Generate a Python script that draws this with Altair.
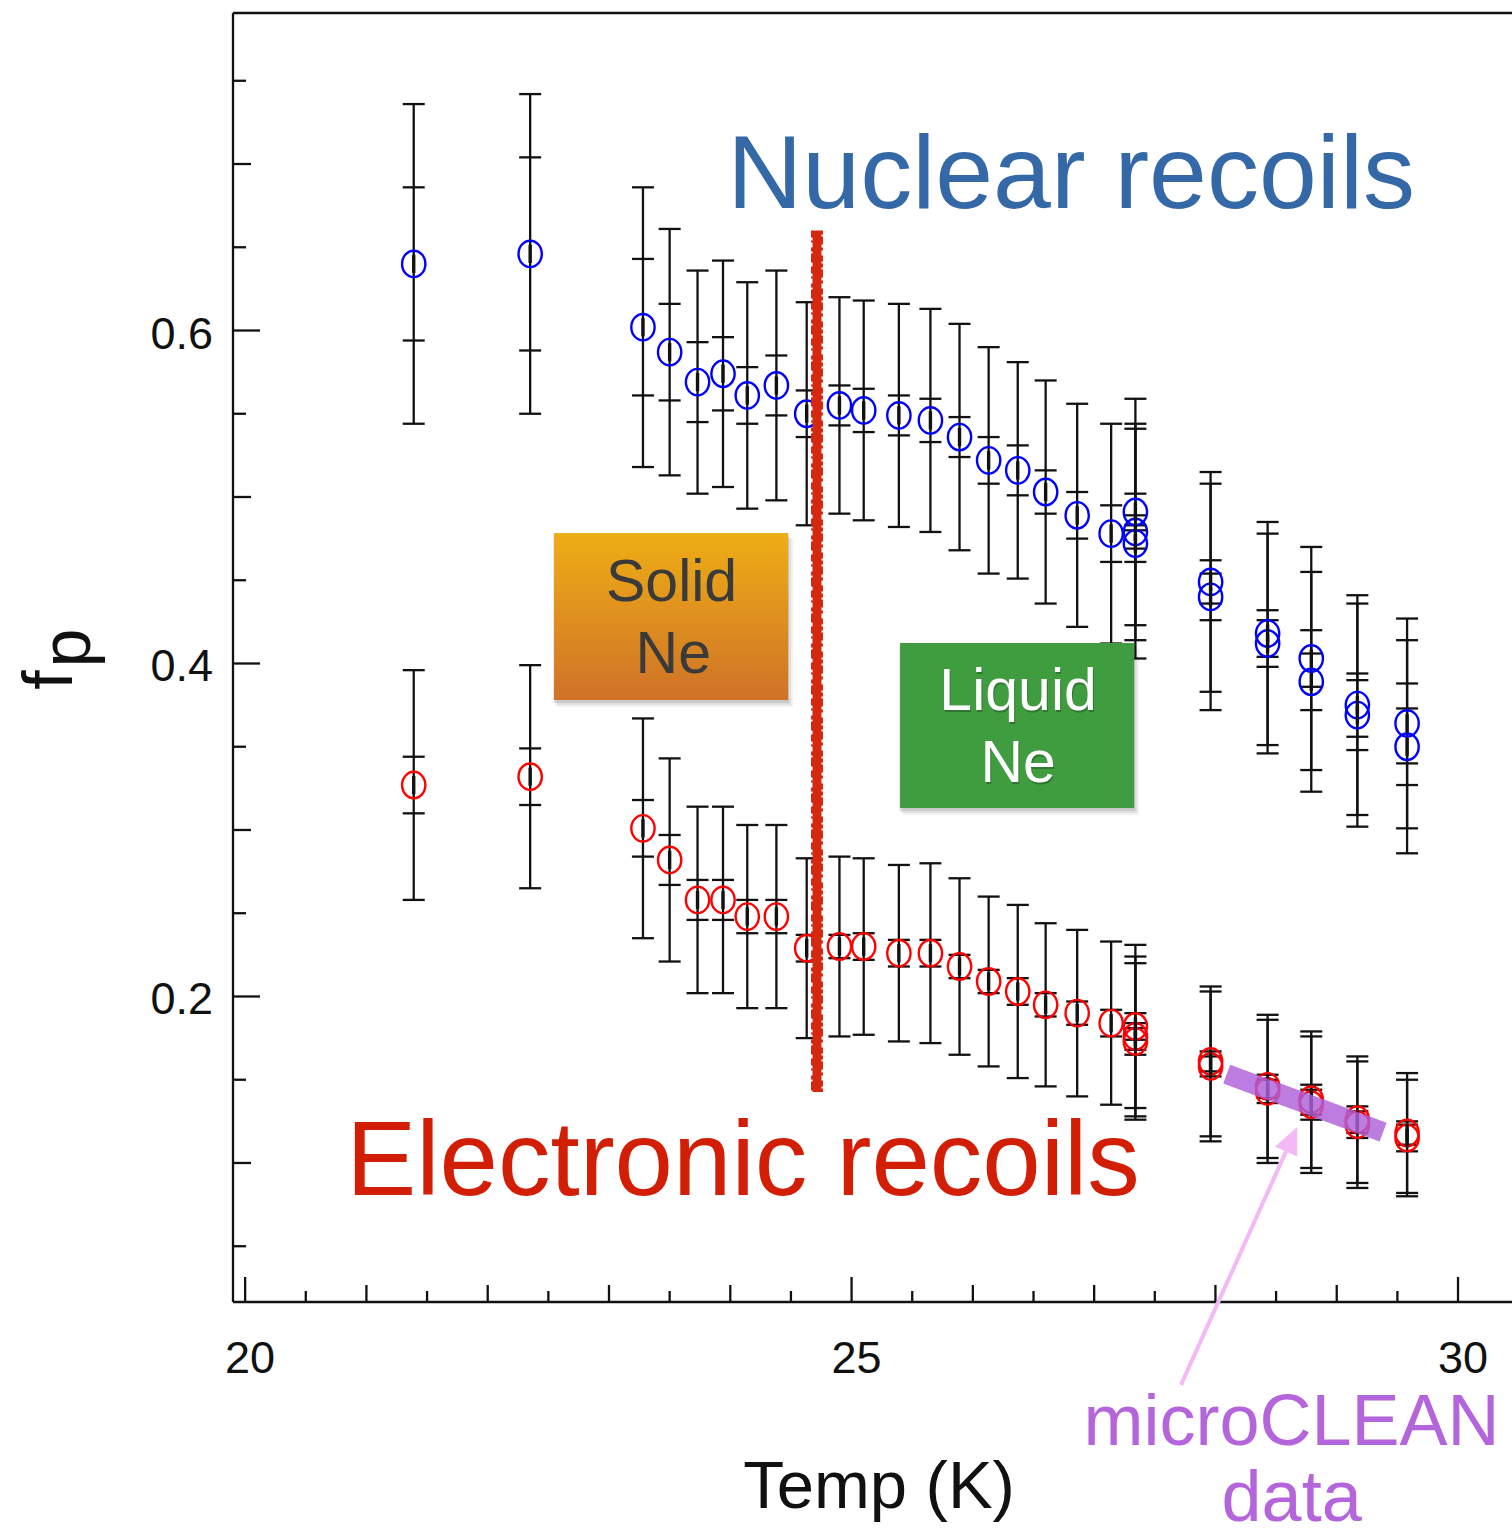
import altair as alt
import pandas as pd

# ---- pulse-shape parameter f_p versus temperature --------------------------
TEMP_K = [21.39, 22.35, 23.28, 23.50, 23.73, 23.94, 24.14, 24.38, 24.63, 24.90,
          25.10, 25.39, 25.65, 25.89, 26.13, 26.37, 26.60, 26.86, 27.14,
          27.34, 27.34, 27.34, 27.96, 27.96, 28.43, 28.43, 28.79, 28.79,
          29.17, 29.17, 29.58, 29.58]

# nuclear recoils: value, inner (statistical) and outer (total) half-widths
NR_FP = [0.640, 0.646, 0.602, 0.587, 0.569, 0.574, 0.561, 0.567, 0.550, 0.555,
         0.552, 0.549, 0.546, 0.536, 0.522, 0.516, 0.503, 0.489, 0.478,
         0.491, 0.479, 0.472, 0.449, 0.440, 0.418, 0.412, 0.403, 0.389,
         0.375, 0.369, 0.364, 0.350]
NR_STAT = [0.046, 0.058, 0.041, 0.029, 0.024, 0.022, 0.017, 0.018, 0.014, 0.012,
           0.013, 0.012, 0.013, 0.012, 0.014, 0.015, 0.013, 0.014, 0.017,
           0.011, 0.010, 0.011, 0.013, 0.014, 0.014, 0.014, 0.017, 0.017,
           0.019, 0.021, 0.024, 0.023]
NR_TOTAL = [0.096, 0.096, 0.084, 0.074, 0.067, 0.068, 0.068, 0.069, 0.067, 0.065,
            0.066, 0.067, 0.067, 0.068, 0.068, 0.065, 0.067, 0.067, 0.066,
            0.068, 0.065, 0.069, 0.066, 0.068, 0.067, 0.066, 0.067, 0.066,
            0.066, 0.067, 0.063, 0.064]

# electronic recoils
ER_FP = [0.327, 0.332, 0.301, 0.282, 0.258, 0.258, 0.248, 0.248, 0.229, 0.230,
         0.230, 0.226, 0.226, 0.218, 0.209, 0.203, 0.195, 0.190, 0.184,
         0.182, 0.176, 0.173, 0.161, 0.158, 0.146, 0.143, 0.138, 0.135,
         0.126, 0.123, 0.118, 0.115]
ER_STAT = [0.017, 0.017, 0.017, 0.015, 0.012, 0.012, 0.010, 0.010, 0.008, 0.007,
           0.008, 0.008, 0.008, 0.007, 0.007, 0.008, 0.007, 0.007, 0.008,
           0.008, 0.008, 0.008, 0.006, 0.006, 0.007, 0.007, 0.009, 0.009,
           0.008, 0.008, 0.007, 0.008]
ER_TOTAL = [0.069, 0.067, 0.066, 0.061, 0.056, 0.056, 0.055, 0.055, 0.054, 0.054,
            0.053, 0.053, 0.054, 0.053, 0.051, 0.052, 0.049, 0.050, 0.049,
            0.049, 0.048, 0.047, 0.045, 0.045, 0.043, 0.043, 0.041, 0.041,
            0.038, 0.038, 0.036, 0.035]

# ---- axes ------------------------------------------------------------------
X_DOMAIN = [19.9, 30.445]
Y_DOMAIN = [0.0165, 0.7907]
X_LABELS = [20, 25, 30]
X_TICKS_UNIT = [21, 22, 23, 24, 26, 27, 28, 29]
X_TICKS_HALF = [20.5, 21.5, 22.5, 23.5, 24.5, 25.5, 26.5, 27.5, 28.5, 29.5]
Y_LABELS = [0.2, 0.4, 0.6]
Y_TICKS_TENTH = [0.1, 0.3, 0.5, 0.7]
Y_TICKS_HALF = [0.05, 0.15, 0.25, 0.35, 0.45, 0.55, 0.65, 0.75]

# ---- annotations (data coordinates) -----------------------------------------
PHASE_T = 24.715
PHASE_F = [0.660, 0.1426]
SOLID_T = [22.547, 24.477]
SOLID_F = [0.4784, 0.3781]
LIQUID_T = [25.40, 27.33]
LIQUID_F = [0.4123, 0.3132]
MC_T = [28.093, 29.382]
MC_F = [0.1533, 0.1186]
ARROW_T = [27.716, 28.582]
ARROW_F = [-0.0333, 0.1069]
ARROW_HEAD = [28.628, 0.1142]

W, H = 1279, 1289
FONT = "Liberation Sans"
INK = "#111111"
LW = 2.3

XS = alt.Scale(domain=X_DOMAIN, nice=False, zero=False)
YS = alt.Scale(domain=Y_DOMAIN, nice=False, zero=False)


def xq(field):
    return alt.X(f"{field}:Q", scale=XS, axis=None)


def yq(field):
    return alt.Y(f"{field}:Q", scale=YS, axis=None)


# ---- tidy table of both recoil populations ----------------------------------
rows = []
for series, fp, stat, tot in (("NR", NR_FP, NR_STAT, NR_TOTAL),
                              ("ER", ER_FP, ER_STAT, ER_TOTAL)):
    for t, v, s, e in zip(TEMP_K, fp, stat, tot):
        rows.append({"t": t, "f": v, "series": series,
                     "lo_out": v - e, "hi_out": v + e,
                     "lo_in": v - s, "hi_in": v + s})
pts = pd.DataFrame(rows)
caps = pts.melt(id_vars=["t", "series"],
                value_vars=["lo_out", "hi_out", "lo_in", "hi_in"],
                value_name="cap")

err_lines = alt.Chart(pts).mark_rule(color=INK, strokeWidth=LW).encode(
    x=xq("t"), y=yq("lo_out"), y2="hi_out:Q")
err_caps = alt.Chart(caps).mark_rule(color=INK, strokeWidth=LW,
                                     xOffset=-11, x2Offset=11).encode(
    x=xq("t"), x2="t:Q", y=yq("cap"))

ELLIPSE = ("M0,-1C0.486,-1 0.88,-0.552 0.88,0C0.88,0.552 0.486,1 0,1"
           "C-0.486,1 -0.88,0.552 -0.88,0C-0.88,-0.552 -0.486,-1 0,-1Z")
circles = alt.Chart(pts).mark_point(shape=ELLIPSE, size=700, filled=False,
                                    strokeWidth=2.4, opacity=1).encode(
    x=xq("t"), y=yq("f"),
    color=alt.Color("series:N", legend=None,
                    scale=alt.Scale(domain=["NR", "ER"], range=["#0000FF", "#FF0000"])))
CORE = "M-0.13,-0.7L0.13,-0.7L0.13,0.7L-0.13,0.7Z"
cores = alt.Chart(pts).mark_point(shape=CORE, size=676, filled=True, color=INK,
                                  opacity=1, strokeWidth=0).encode(x=xq("t"), y=yq("f"))

# ---- frame: spines, inward ticks and tick labels ----------------------------
one = pd.DataFrame({"k": [0]})
frame = [
    alt.Chart(one).mark_rule(color=INK, strokeWidth=LW).encode(
        y=alt.value(0), x=alt.value(0), x2=alt.value(W)),
    alt.Chart(one).mark_rule(color=INK, strokeWidth=LW).encode(
        y=alt.value(H), x=alt.value(0), x2=alt.value(W)),
    alt.Chart(one).mark_rule(color=INK, strokeWidth=LW).encode(
        x=alt.value(0), y=alt.value(0), y2=alt.value(H)),
]


def y_ticks(values, length):
    return alt.Chart(pd.DataFrame({"v": values})).mark_rule(color=INK, strokeWidth=LW).encode(
        y=yq("v"), x=alt.value(0), x2=alt.value(length))


def x_ticks(values, length):
    return alt.Chart(pd.DataFrame({"v": values})).mark_rule(color=INK, strokeWidth=LW).encode(
        x=xq("v"), y=alt.value(H), y2=alt.value(H - length))


ticks = [y_ticks(Y_LABELS, 27), y_ticks(Y_TICKS_TENTH, 18), y_ticks(Y_TICKS_HALF, 13),
         x_ticks(X_LABELS, 25), x_ticks(X_TICKS_UNIT, 17), x_ticks(X_TICKS_HALF, 11)]

y_tick_labels = alt.Chart(pd.DataFrame({"v": Y_LABELS, "s": [f"{v:.1f}" for v in Y_LABELS]})).mark_text(
    font=FONT, fontSize=45, color=INK, align="right", baseline="alphabetic", dy=18).encode(
    y=yq("v"), x=alt.value(-20), text="s:N")
x_tick_labels = alt.Chart(pd.DataFrame({"v": X_LABELS, "s": [str(v) for v in X_LABELS]})).mark_text(
    font=FONT, fontSize=45, color=INK, align="center", baseline="alphabetic", dx=5).encode(
    x=xq("v"), y=alt.value(H + 71), text="s:N")

# ---- annotations ------------------------------------------------------------
# solid/liquid boundary: a thick red stroke with ragged edges
phase_df = pd.DataFrame({"t": [PHASE_T], "f0": [PHASE_F[0]], "f1": [PHASE_F[1]]})
phase = [
    alt.Chart(phase_df).mark_rule(color="#D42810", strokeWidth=9).encode(
        x=xq("t"), y=yq("f0"), y2="f1:Q"),
    alt.Chart(phase_df).mark_rule(color="#D42810", strokeWidth=2, xOffset=-5, x2Offset=-5,
                                  strokeDash=[7, 3, 2, 5, 4, 2, 9, 4]).encode(
        x=xq("t"), x2="t:Q", y=yq("f0"), y2="f1:Q"),
    alt.Chart(phase_df).mark_rule(color="#D42810", strokeWidth=2, xOffset=5, x2Offset=5,
                                  strokeDash=[4, 2, 8, 3, 3, 5, 6, 2]).encode(
        x=xq("t"), x2="t:Q", y=yq("f0"), y2="f1:Q"),
]


def box(ts, fs, fill):
    df = pd.DataFrame({"t0": [ts[0]], "t1": [ts[1]], "f0": [fs[0]], "f1": [fs[1]]})
    shadow = [alt.Chart(df).mark_rect(color="#000000", opacity=op, xOffset=-1 + d, x2Offset=1 + d,
                                      yOffset=2 + d, y2Offset=3 + d).encode(
        x=xq("t0"), x2="t1:Q", y=yq("f0"), y2="f1:Q") for d, op in ((0, 0.10), (2, 0.07), (4, 0.05))]
    face = alt.Chart(df).mark_rect(color=fill).encode(
        x=xq("t0"), x2="t1:Q", y=yq("f0"), y2="f1:Q")
    return shadow + [face]


solid_fill = alt.LinearGradient(gradient="linear", x1=0, x2=0, y1=0, y2=1,
                                stops=[alt.GradientStop(color="#EEAE15", offset=0),
                                       alt.GradientStop(color="#CF7228", offset=1)])


def label(t, f, text, size, color, **kw):
    df = pd.DataFrame({"t": [t], "f": [f], "s": [text]})
    return alt.Chart(df).mark_text(font=FONT, fontSize=size, color=color, align="center",
                                   baseline="alphabetic", **kw).encode(
        x=xq("t"), y=yq("f"), text="s:N")


mc_band = alt.Chart(pd.DataFrame({"t": MC_T, "f": MC_F})).mark_line(
    color="#AE5FD9", strokeWidth=20, strokeCap="butt", opacity=0.82).encode(x=xq("t"), y=yq("f"))
arrow_line = alt.Chart(pd.DataFrame({"t": ARROW_T, "f": ARROW_F})).mark_line(
    color="#F3B8F5", strokeWidth=4).encode(x=xq("t"), y=yq("f"))
HEAD = "M0,-1L0.9,1L-0.9,1Z"
arrow_head = alt.Chart(pd.DataFrame({"t": [ARROW_HEAD[0]], "f": [ARROW_HEAD[1]]})).mark_point(
    shape=HEAD, size=729, filled=True, color="#F3B8F5", opacity=1, angle=24, strokeWidth=0).encode(
    x=xq("t"), y=yq("f"))

texts = [
    label(26.81, 0.6735, "Nuclear recoils", 104, "#3568A7"),
    label(24.105, 0.0808, "Electronic recoils", 105, "#D21E05"),
    label(23.516, 0.4377, "Solid", 59, "#3A3A3A"),
    label(23.53, 0.3945, "Ne", 59, "#3A3A3A"),
    label(26.373, 0.3721, "Liquid", 59, "#1E4A1E", dx=1, dy=2, opacity=0.45),
    label(26.373, 0.3721, "Liquid", 59, "#FFFFFF"),
    label(26.373, 0.3290, "Ne", 59, "#1E4A1E", dx=1, dy=2, opacity=0.45),
    label(26.373, 0.3290, "Ne", 59, "#FFFFFF"),
    label(28.627, -0.0694, "microCLEAN", 72, "#B565DB"),
    label(28.628, -0.1150, "data", 72, "#B565DB"),
]

# axis titles
x_title = alt.Chart(one).mark_text(font=FONT, fontSize=67, color=INK, align="center",
                                   baseline="alphabetic", text="Temp (K)").encode(
    x=alt.value(646), y=alt.value(1495))
y_title_f = alt.Chart(one).mark_text(font=FONT, fontSize=70, color=INK, align="center",
                                     baseline="alphabetic", angle=270, text="f").encode(
    x=alt.value(-161), y=alt.value(667))
y_title_p = alt.Chart(one).mark_text(font=FONT, fontSize=70, color=INK, align="center",
                                     baseline="alphabetic", angle=270, text="p").encode(
    x=alt.value(-143), y=alt.value(635))

layers = ([err_lines, err_caps, circles, cores] + frame + ticks
          + [y_tick_labels, x_tick_labels] + phase
          + box(SOLID_T, SOLID_F, solid_fill) + box(LIQUID_T, LIQUID_F, "#3F9C3F")
          + [mc_band, arrow_line, arrow_head] + texts + [x_title, y_title_f, y_title_p])

chart = alt.layer(*layers).properties(
    width=W, height=H,
    padding={"left": 233, "top": 13, "right": 0, "bottom": 233},
    autosize=alt.AutoSizeParams(type="none"),
    background="white",
).configure_view(stroke=None)

chart.save("out.html", embed_options={"renderer": "svg", "actions": False})
